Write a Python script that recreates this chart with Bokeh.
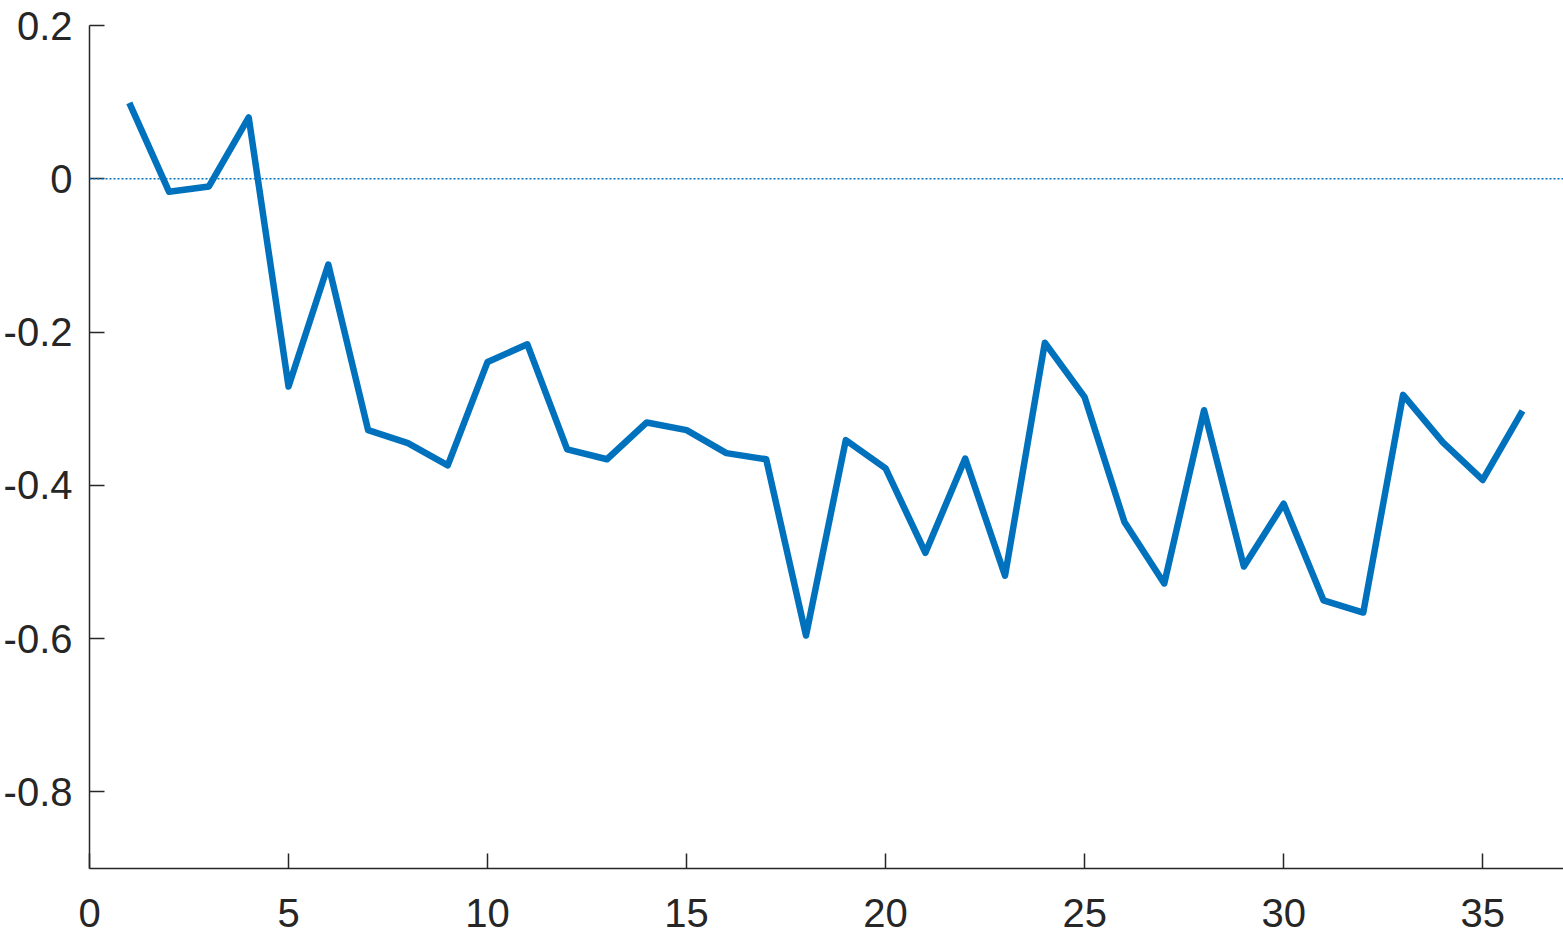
from bokeh.plotting import figure
from bokeh.models import Range1d, Span, FixedTicker
from bokeh.embed import file_html
from bokeh.resources import INLINE

x_vals = list(range(1, 37))
y_vals = [0.099, -0.017, -0.010, 0.080, -0.271, -0.112, -0.328, -0.345, -0.374, -0.239,
          -0.216, -0.353, -0.366, -0.318, -0.328, -0.358, -0.366, -0.596, -0.341, -0.378,
          -0.488, -0.365, -0.518, -0.214, -0.285, -0.448, -0.528, -0.302, -0.506, -0.424,
          -0.550, -0.566, -0.282, -0.344, -0.393, -0.303]
x_ticks = [0, 5, 10, 15, 20, 25, 30, 35]
y_ticks = [0.2, 0, -0.2, -0.4, -0.6, -0.8]
y_tick_labels = {0.2: "0.2", 0: "0", -0.2: "-0.2", -0.4: "-0.4", -0.6: "-0.6", -0.8: "-0.8"}

p = figure(width=1563, height=938, output_backend="svg", toolbar_location=None,
           x_range=Range1d(0, 37.03), y_range=Range1d(-0.9, 0.2),
           min_border_left=89, min_border_top=25, min_border_bottom=70, min_border_right=0)
p.outline_line_color = None
p.xgrid.visible = False
p.ygrid.visible = False

zero = Span(location=0, dimension="width", line_color="#0072BD", line_width=1.5, line_dash="2 2")
p.add_layout(zero)

p.line(x_vals, y_vals, line_color="#0072BD", line_width=6.5, line_join="round")

for ax in (p.xaxis[0], p.yaxis[0]):
    ax.axis_line_color = "#262626"
    ax.axis_line_width = 1.5
    ax.major_tick_line_color = "#262626"
    ax.major_tick_line_width = 1.5
    ax.major_tick_in = 15
    ax.major_tick_out = 0
    ax.minor_tick_line_color = None
    ax.major_label_text_font = "Liberation Sans"
    ax.major_label_text_font_size = "40px"
    ax.major_label_text_color = "#262626"

p.xaxis.ticker = FixedTicker(ticks=x_ticks)
p.yaxis.ticker = FixedTicker(ticks=y_ticks)
p.yaxis.major_label_overrides = y_tick_labels
p.xaxis.major_label_standoff = 30
p.yaxis.major_label_standoff = 17

open("out.html", "w").write(file_html(p, INLINE))
